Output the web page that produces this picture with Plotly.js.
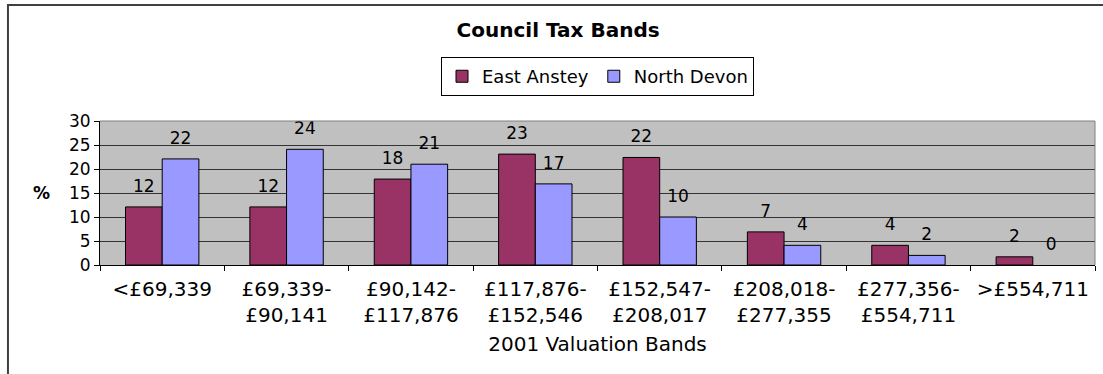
<!DOCTYPE html>
<html>
<head>
<meta charset="utf-8">
<script src="https://cdn.plot.ly/plotly-3.0.1.min.js"></script>
<style>
html,body{margin:0;padding:0;background:#fff;}
#chart{width:1103px;height:374px;}
</style>
</head>
<body>
<div id="chart"></div>
<script>
const categories = ['<£69,339', '£69,339-<br>£90,141', '£90,142-<br>£117,876', '£117,876-<br>£152,546',
  '£152,547-<br>£208,017', '£208,018-<br>£277,355', '£277,356-<br>£554,711', '>£554,711'];
const eastAnstey = [12.1, 12.1, 17.9, 23.1, 22.4, 6.9, 4.1, 1.7];
const northDevon = [22.1, 24.1, 21.0, 16.9, 10.0, 4.1, 2.0, 0.0];
const seriesNames = ['East Anstey', 'North Devon'];
const seriesColors = ['#993366', '#9999FF'];
const yTicks = [0, 5, 10, 15, 20, 25, 30];

const FONT = 'DejaVu Sans, Verdana, sans-serif';
const seriesValues = [eastAnstey, northDevon];

const data = [];
// bars
seriesValues.forEach((vals, i) => {
  data.push({
    type: 'bar', x: categories, y: vals, name: seriesNames[i],
    marker: {color: seriesColors[i], line: {color: '#000', width: vals.map(v => v === 0 ? 0 : 1)}},
    hoverinfo: 'skip'
  });
});
// value labels (grouped like the bars, invisible markers give the gap)
seriesValues.forEach((vals, i) => {
  data.push({
    type: 'scatter', mode: 'markers+text', x: categories, y: vals,
    texttemplate: '%{y:.0f}', textposition: 'top center',
    textfont: {family: FONT, size: 17, color: '#000'},
    marker: {size: 16, color: 'rgba(0,0,0,0)'},
    cliponaxis: false, showlegend: false, hoverinfo: 'skip'
  });
});

const layout = {
  width: 1103, height: 374,
  margin: {l: 100, r: 8, t: 121, b: 109},
  paper_bgcolor: '#fff',
  plot_bgcolor: '#C0C0C0',
  font: {family: FONT, size: 17, color: '#000'},
  barmode: 'group',
  scattermode: 'group',
  bargap: 0.41,
  scattergap: 0.41,
  bargroupgap: 0,
  showlegend: true,
  title: {
    text: '<b>Council Tax Bands</b>',
    font: {family: FONT, size: 20, color: '#000'},
    x: 0.506, xref: 'container', xanchor: 'center',
    y: 1 - 30/374, yref: 'container', yanchor: 'middle'
  },
  legend: {
    orientation: 'h',
    x: 0.5, xanchor: 'center',
    y: 1.444, yanchor: 'top',
    bgcolor: '#fff', bordercolor: '#000', borderwidth: 1,
    font: {family: FONT, size: 18, color: '#000'},
    itemwidth: 30,
    tracegroupgap: 0
  },
  xaxis: {
    type: 'category',
    tickson: 'boundaries',
    ticks: 'outside', ticklen: 5, tickcolor: '#000',
    ticklabelstandoff: 6,
    showline: true, linecolor: '#000', linewidth: 1,
    showgrid: false,
    tickfont: {family: FONT, size: 20, color: '#000'},
    title: {text: '2001 Valuation Bands', font: {family: FONT, size: 20, color: '#000'}, standoff: 10},
    fixedrange: true
  },
  yaxis: {
    range: [0, 30],
    tickvals: yTicks,
    ticks: 'outside', ticklen: 5, tickcolor: '#000',
    showline: true, linecolor: '#000', linewidth: 1,
    showgrid: true, gridcolor: '#333', gridwidth: 1,
    zeroline: false,
    tickfont: {family: FONT, size: 17, color: '#000'},
    fixedrange: true
  },
  annotations: [
    {text: '<b>%</b>', xref: 'paper', yref: 'paper', x: -0.0583, y: 0.5,
     xanchor: 'center', yanchor: 'middle', showarrow: false,
     font: {family: FONT, size: 17, color: '#000'}}
  ],
  shapes: [
    {type: 'path', xref: 'paper', yref: 'paper', path: 'M 0,1 L 1,1 L 1,0',
     line: {color: '#808080', width: 1}, layer: 'above'},
    {type: 'path', xref: 'paper', yref: 'paper',
     path: 'M -0.0925,-1.0 L -0.0925,1.8056 L 1.05,1.8056',
     line: {color: '#404040', width: 2}, layer: 'above'}
  ]
};

Plotly.newPlot('chart', data, layout, {displayModeBar: false, staticPlot: true});
</script>
</body>
</html>
